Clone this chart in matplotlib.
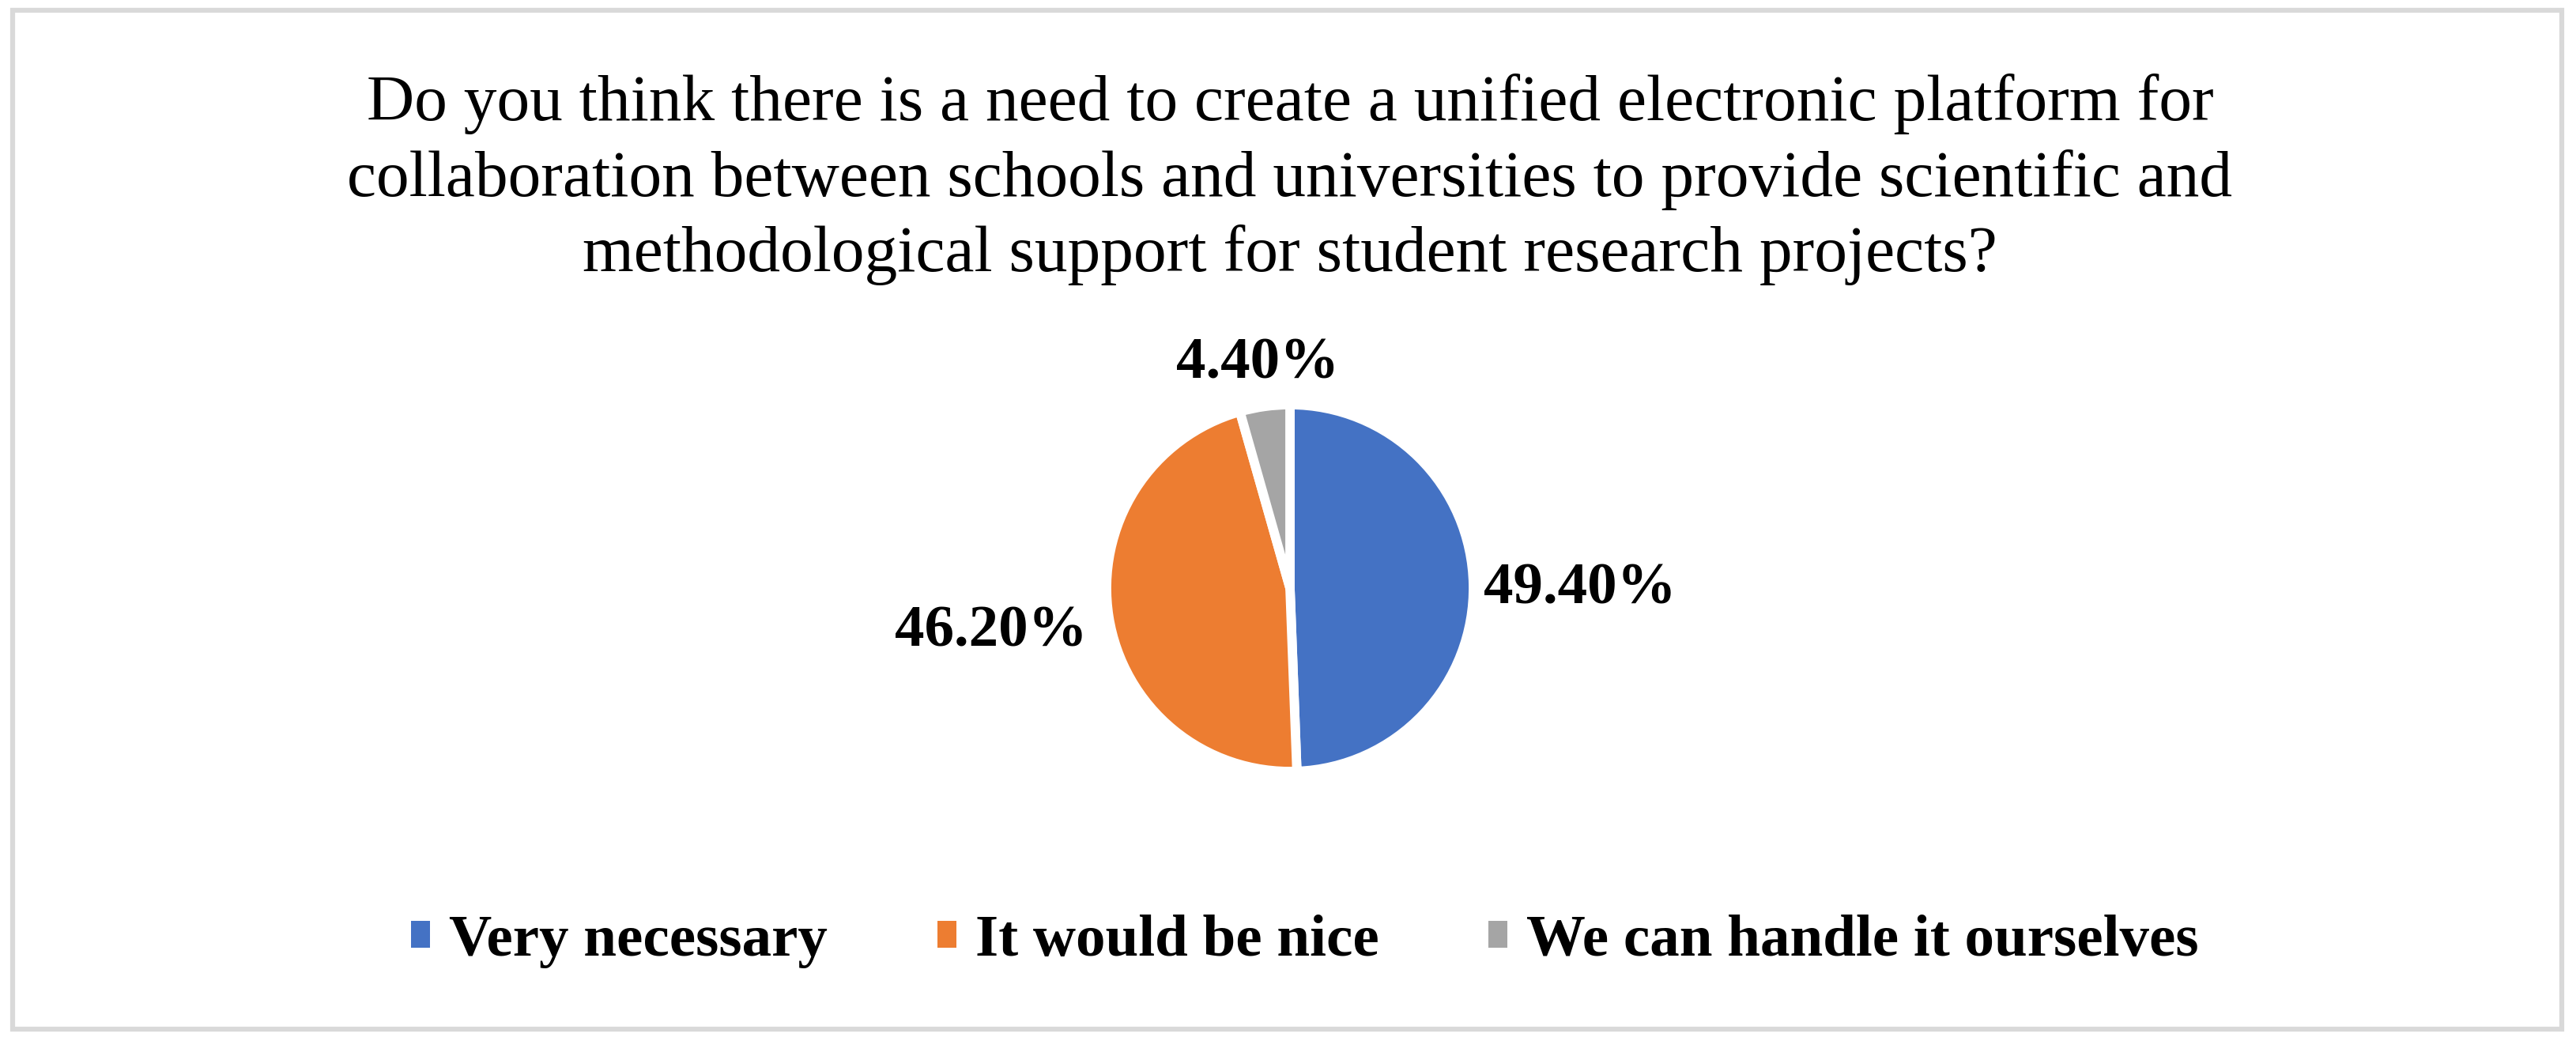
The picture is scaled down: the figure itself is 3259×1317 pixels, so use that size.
import numpy as np
import matplotlib
matplotlib.use("Agg")
import matplotlib.pyplot as plt
from matplotlib.patches import Rectangle, Patch

# data
categories = ["Very necessary", "It would be nice", "We can handle it ourselves"]
shares = [49.4, 46.2, 4.4]
colors = ["#4472C4", "#ED7D31", "#A5A5A5"]

title = ("Do you think there is a need to create a unified electronic platform for\n"
         "collaboration between schools and universities to provide scientific and\n"
         "methodological support for student research projects?")

W, H = 3259, 1317
plt.rcParams["font.family"] = ["Liberation Serif", "DejaVu Serif"]

fig = plt.figure(figsize=(W / 100, H / 100), dpi=100)

# light gray chart frame
fig.patches.append(Rectangle((16 / W, 1 - 1302 / H), (3241 - 16) / W, (1302 - 13) / H,
                             transform=fig.transFigure, fill=False,
                             edgecolor="#d9d9d9", linewidth=4.5))

# pie axes: radius in px, centred at (1632, 744)
R = 232
L = 2.2
side = 2 * L * R
cx, cy = 1632, H - 744
ax = fig.add_axes([(cx - side / 2) / W, (cy - side / 2) / H, side / W, side / H])
wedges, _ = ax.pie(shares, colors=colors, startangle=90, counterclock=False,
                   wedgeprops=dict(edgecolor="white", linewidth=8.5))
ax.set_xlim(-L, L)
ax.set_ylim(-L, L)
ax.set_aspect("equal")
ax.axis("off")

# data labels outside the slices (distance in radii)
label_dist = [1.58, 1.65, 1.27]
for w, v, d in zip(wedges, shares, label_dist):
    ang = np.deg2rad((w.theta1 + w.theta2) / 2)
    ax.text(d * np.cos(ang), d * np.sin(ang) * 0.8 if v == shares[1] else d * np.sin(ang),
            f"{v:.2f}%", ha="center", va="center_baseline", fontsize=54, fontweight="bold")

# title, last line baseline at y = 343 px
fig.text(cx / W, 1 - 343 / H, title, ha="center", va="baseline", fontsize=60,
         linespacing=1.31)

handles = [Patch(facecolor=w.get_facecolor(), edgecolor="none") for w in wedges]
fig.legend(handles, categories, loc="center", bbox_to_anchor=(1651 / W, 1 - 1191 / H),
           ncol=3, frameon=False, handlelength=0.32, handleheight=0.32,
           handletextpad=0.32, columnspacing=1.85, borderpad=0,
           prop=dict(size=54, weight="bold"))

fig.savefig("out.png", dpi=100)
